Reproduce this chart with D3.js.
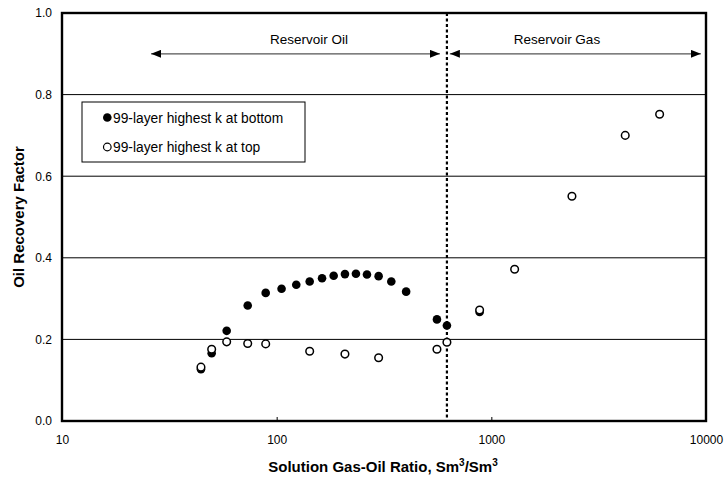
<!DOCTYPE html>
<html>
<head>
<meta charset="utf-8">
<script src="https://cdn.jsdelivr.net/npm/d3@7/dist/d3.min.js"></script>
<style>
  html, body { margin: 0; padding: 0; background: #fff; }
  svg { display: block; font-family: "Liberation Sans", Arial, sans-serif; }
</style>
</head>
<body>
<svg id="chart" width="726" height="477"></svg>
<script>
// Solution gas-oil ratio (Sm3/Sm3) and oil recovery factor for the two layer orderings
const gorBottom = [44.4, 49.8, 58.5, 73.3, 88.9, 105.4, 123.4, 142.5, 162.7, 184.3, 208, 234, 263.4, 298.5, 342, 401, 558, 621, 882];
const rfBottom  = [0.127, 0.166, 0.221, 0.283, 0.314, 0.324, 0.334, 0.342, 0.350, 0.356, 0.360, 0.361, 0.359, 0.355, 0.342, 0.317, 0.249, 0.234, 0.267];

const gorTop = [44.4, 49.8, 58.5, 73.3, 88.9, 142.5, 208, 298.5, 558, 621, 882, 1284, 2374, 4205, 6081];
const rfTop  = [0.132, 0.176, 0.194, 0.190, 0.189, 0.171, 0.164, 0.155, 0.176, 0.193, 0.272, 0.372, 0.551, 0.700, 0.752];

const xTicks = [10, 100, 1000, 10000];
const yTicks = [0.0, 0.2, 0.4, 0.6, 0.8, 1.0];

// Saturation pressure boundary and the oil/gas region arrows
const boundaryGor = 621;
const oilRange = [26, 576];
const gasRange = [641, 9460];

const legendLabels = ["99-layer highest k at bottom", "99-layer highest k at top"];

const svg = d3.select("#chart");
const margin = { left: 62, right: 20, top: 13, bottom: 56 };
const W = 726, H = 477;
const x = d3.scaleLog().domain([10, 10000]).range([margin.left, W - margin.right]);
const y = d3.scaleLinear().domain([0, 1]).range([H - margin.bottom, margin.top]);

// Horizontal gridlines
svg.append("g").selectAll("line")
  .data(yTicks.filter(v => v > 0 && v < 1))
  .join("line")
  .attr("x1", x.range()[0]).attr("x2", x.range()[1])
  .attr("y1", d => y(d)).attr("y2", d => y(d))
  .attr("stroke", "#000").attr("stroke-width", 1);

// X axis: labels below, short ticks pointing into the plot
const xAxis = d3.axisBottom(x).tickValues(xTicks).tickFormat(d3.format("d")).tickSizeInner(-4).tickSizeOuter(0).tickPadding(14);
const gx = svg.append("g").attr("transform", `translate(0,${y(0)})`).call(xAxis);
gx.select(".domain").remove();
gx.selectAll("text").attr("font-size", 12).attr("fill", "#000").attr("font-family", "Liberation Sans, Arial, sans-serif");
gx.selectAll("line").attr("stroke", "#000");

// Y axis labels
const yAxis = d3.axisLeft(y).tickValues(yTicks).tickFormat(d3.format(".1f")).tickSize(0).tickPadding(10);
const gy = svg.append("g").attr("transform", `translate(${x(10)},0)`).call(yAxis);
gy.select(".domain").remove();
gy.selectAll("text").attr("font-size", 12).attr("fill", "#000").attr("font-family", "Liberation Sans, Arial, sans-serif");

// Dotted boundary line
svg.append("line")
  .attr("x1", x(boundaryGor)).attr("x2", x(boundaryGor))
  .attr("y1", y(1)).attr("y2", y(0))
  .attr("stroke", "#000").attr("stroke-width", 2.2).attr("stroke-dasharray", "3,2.5");

// Region arrows
const defs = svg.append("defs");
defs.append("marker").attr("id", "arrowEnd")
  .attr("viewBox", "0 0 10 8").attr("refX", 10).attr("refY", 4)
  .attr("markerWidth", 10).attr("markerHeight", 8).attr("markerUnits", "userSpaceOnUse")
  .attr("orient", "auto-start-reverse")
  .append("path").attr("d", "M0,0 L10,4 L0,8 Z").attr("fill", "#000");

const arrowY = 0.9;
[oilRange, gasRange].forEach(r => {
  svg.append("line")
    .attr("x1", x(r[0])).attr("x2", x(r[1]))
    .attr("y1", y(arrowY)).attr("y2", y(arrowY))
    .attr("stroke", "#555").attr("stroke-width", 1.2)
    .attr("marker-start", "url(#arrowEnd)").attr("marker-end", "url(#arrowEnd)");
});

svg.append("text").attr("x", 309).attr("y", y(arrowY) - 10)
  .attr("text-anchor", "middle").attr("font-size", 13.5).text("Reservoir Oil");
svg.append("text").attr("x", 557).attr("y", y(arrowY) - 10)
  .attr("text-anchor", "middle").attr("font-size", 13.5).text("Reservoir Gas");

// Data markers: filled series first, open series on top
const bottomPts = gorBottom.map((g, i) => [g, rfBottom[i]]);
const topPts = gorTop.map((g, i) => [g, rfTop[i]]);

svg.append("g").selectAll("circle").data(bottomPts).join("circle")
  .attr("cx", d => x(d[0])).attr("cy", d => y(d[1])).attr("r", 4.3)
  .attr("fill", "#000");

svg.append("g").selectAll("circle").data(topPts).join("circle")
  .attr("cx", d => x(d[0])).attr("cy", d => y(d[1])).attr("r", 3.8)
  .attr("fill", "#fff").attr("stroke", "#000").attr("stroke-width", 1.5);

// Plot frame
svg.append("rect")
  .attr("x", x.range()[0]).attr("y", y(1))
  .attr("width", x.range()[1] - x.range()[0]).attr("height", y(0) - y(1))
  .attr("fill", "none").attr("stroke", "#000").attr("stroke-width", 2.4);

// Legend
const lg = svg.append("g").attr("transform", "translate(82,102)");
lg.append("rect").attr("width", 223).attr("height", 60)
  .attr("fill", "#fff").attr("stroke", "#000").attr("stroke-width", 1);
legendLabels.forEach((t, i) => {
  const cy = 15.5 + i * 29.5;
  const c = lg.append("circle").attr("cx", 25.3).attr("cy", cy);
  if (i === 0) c.attr("r", 4.3).attr("fill", "#000");
  else c.attr("r", 3.8).attr("fill", "#fff").attr("stroke", "#000").attr("stroke-width", 1.2);
  lg.append("text").attr("x", 31).attr("y", cy + 5).attr("font-size", 13.8).text(t);
});

// Axis titles
const xt = svg.append("text").attr("x", 383).attr("y", 472)
  .attr("text-anchor", "middle").attr("font-size", 15).attr("font-weight", "bold");
xt.append("tspan").text("Solution Gas-Oil Ratio, Sm");
xt.append("tspan").attr("dy", -6).attr("font-size", 10).text("3");
xt.append("tspan").attr("dy", 6).text("/Sm");
xt.append("tspan").attr("dy", -6).attr("font-size", 10).text("3");

svg.append("text")
  .attr("transform", `translate(24,${(y(0) + y(1)) / 2}) rotate(-90)`)
  .attr("text-anchor", "middle").attr("font-size", 15).attr("font-weight", "bold")
  .text("Oil Recovery Factor");
</script>
</body>
</html>
